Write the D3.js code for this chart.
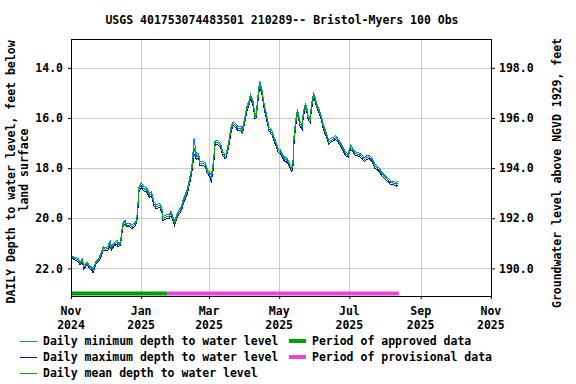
<!DOCTYPE html>
<html>
<head>
<meta charset="utf-8">
<script src="https://cdn.jsdelivr.net/npm/d3@7/dist/d3.min.js"></script>
<style>
  html, body { margin: 0; padding: 0; background: #fff; }
  svg { display: block; }
  text { font-family: "DejaVu Sans Mono", "Liberation Mono", monospace; font-weight: bold; font-size: 11.5px; fill: #000; }
</style>
</head>
<body>
<svg id="chart" width="576" height="384"></svg>
<script>
const title = "USGS 401753074483501 210289-- Bristol-Myers 100 Obs";
const leftTitle = ["DAILY Depth to water level, feet below", "land surface"];
const rightTitle = "Groundwater level above NGVD 1929, feet";

const dates = [
"2024-11-01","2024-11-04","2024-11-07","2024-11-09","2024-11-11","2024-11-12","2024-11-15","2024-11-17","2024-11-19","2024-11-20",
"2024-11-23","2024-11-25","2024-11-27","2024-11-29","2024-12-01","2024-12-03","2024-12-05","2024-12-06","2024-12-08","2024-12-11",
"2024-12-12","2024-12-14","2024-12-16","2024-12-18","2024-12-19","2024-12-22","2024-12-24","2024-12-26","2024-12-28","2024-12-29",
"2024-12-30","2025-01-01","2025-01-03","2025-01-06","2025-01-08","2025-01-10","2025-01-12","2025-01-14","2025-01-17","2025-01-19",
"2025-01-20","2025-01-23","2025-01-25","2025-01-27","2025-01-28","2025-01-30","2025-02-01","2025-02-03","2025-02-05","2025-02-07",
"2025-02-10","2025-02-12","2025-02-14","2025-02-16","2025-02-18","2025-02-20","2025-02-21","2025-02-24","2025-02-26","2025-02-27",
"2025-03-01","2025-03-03","2025-03-05","2025-03-06","2025-03-08","2025-03-11","2025-03-13","2025-03-15","2025-03-16","2025-03-18",
"2025-03-20","2025-03-22","2025-03-24","2025-03-26","2025-03-29","2025-03-30","2025-04-01","2025-04-03","2025-04-05","2025-04-06",
"2025-04-08","2025-04-10","2025-04-11","2025-04-13","2025-04-14","2025-04-16","2025-04-18","2025-04-20","2025-04-22","2025-04-25",
"2025-04-27","2025-04-30","2025-05-02","2025-05-05","2025-05-08","2025-05-10","2025-05-12","2025-05-13","2025-05-14","2025-05-16",
"2025-05-17","2025-05-19","2025-05-21","2025-05-22","2025-05-24","2025-05-25","2025-05-26","2025-05-28","2025-05-29","2025-05-31",
"2025-06-01","2025-06-03","2025-06-06","2025-06-08","2025-06-10","2025-06-13","2025-06-15","2025-06-17","2025-06-19","2025-06-21",
"2025-06-24","2025-06-26","2025-06-28","2025-06-30","2025-07-02","2025-07-04","2025-07-06","2025-07-09","2025-07-12","2025-07-14",
"2025-07-16","2025-07-18","2025-07-20","2025-07-21","2025-07-23","2025-07-25","2025-07-27","2025-07-29","2025-07-31","2025-08-02",
"2025-08-04","2025-08-06","2025-08-08","2025-08-11","2025-08-12"
];

const meanDepth = [
21.54,21.60,21.67,21.80,21.67,21.96,21.80,21.94,22.00,22.10,
21.74,21.67,21.47,21.20,21.24,21.20,21.00,21.20,21.07,20.94,
21.07,21.00,20.27,20.14,20.27,20.27,20.34,20.27,20.14,19.68,
18.85,18.68,18.81,18.88,19.08,19.01,19.41,19.55,19.48,19.68,
20.01,19.94,19.94,19.81,19.94,20.18,19.94,19.75,19.61,19.28,
18.95,18.55,18.08,17.22,17.55,17.49,17.82,17.82,17.88,18.08,
18.22,18.41,17.82,17.02,16.96,17.09,17.42,17.55,17.49,17.09,
16.49,16.22,16.29,16.42,16.42,16.56,16.09,15.63,15.36,15.16,
15.36,15.96,15.89,15.03,14.63,14.96,15.56,15.96,16.42,16.62,
16.89,17.29,17.35,17.62,17.69,17.88,18.02,17.82,16.76,15.96,
15.76,16.22,16.36,15.82,15.49,15.69,15.96,16.09,15.56,15.10,
15.23,15.56,15.89,16.29,16.56,16.96,16.89,16.85,16.78,16.89,
17.09,17.29,17.45,17.49,17.16,17.29,17.42,17.45,17.55,17.66,
17.58,17.55,17.63,17.69,17.92,17.98,18.08,18.22,18.32,18.41,
18.48,18.59,18.59,18.64,18.59
];

const minDepth = [
21.49,21.55,21.60,21.74,21.62,21.88,21.74,21.88,21.95,22.02,
21.68,21.61,21.40,21.14,21.18,21.13,20.90,21.13,21.00,20.86,
21.00,20.93,20.20,20.06,20.20,20.20,20.27,20.20,20.07,19.58,
18.75,18.58,18.72,18.80,19.00,18.93,19.33,19.47,19.40,19.60,
19.93,19.86,19.86,19.72,19.86,20.08,19.86,19.67,19.53,19.18,
18.85,18.45,17.95,16.82,17.45,17.40,17.74,17.74,17.80,17.99,
18.13,18.30,17.68,16.94,16.88,17.01,17.34,17.47,17.41,16.98,
16.38,16.14,16.21,16.34,16.34,16.47,15.98,15.53,15.28,15.06,
15.27,15.88,15.80,14.90,14.52,14.87,15.47,15.87,16.34,16.54,
16.81,17.21,17.27,17.54,17.61,17.80,17.92,17.70,16.60,15.85,
15.66,16.13,16.27,15.72,15.40,15.61,15.87,16.00,15.45,15.01,
15.15,15.48,15.81,16.21,16.48,16.89,16.82,16.78,16.71,16.82,
17.02,17.22,17.38,17.42,17.07,17.22,17.35,17.38,17.48,17.59,
17.51,17.48,17.56,17.62,17.84,17.91,18.01,18.15,18.25,18.34,
18.41,18.52,18.52,18.57,18.52
];

const maxDepth = [
21.59,21.66,21.72,21.86,21.73,22.02,21.86,22.00,22.06,22.18,
21.80,21.73,21.54,21.27,21.30,21.27,21.08,21.27,21.13,21.02,
21.14,21.07,20.34,20.22,20.34,20.34,20.41,20.34,20.21,19.80,
18.96,18.77,18.90,18.96,19.16,19.09,19.49,19.63,19.56,19.76,
20.09,20.02,20.02,19.90,20.02,20.28,20.02,19.83,19.69,19.38,
19.05,18.65,18.20,17.45,17.65,17.58,17.90,17.90,17.96,18.17,
18.31,18.52,17.96,17.10,17.04,17.17,17.50,17.63,17.57,17.20,
16.60,16.30,16.37,16.50,16.50,16.65,16.20,15.73,15.44,15.26,
15.45,16.04,15.98,15.16,14.74,15.05,15.65,16.05,16.50,16.70,
16.97,17.37,17.43,17.70,17.77,17.96,18.12,17.94,16.92,16.07,
15.86,16.31,16.45,15.92,15.58,15.77,16.05,16.18,15.67,15.19,
15.31,15.64,15.97,16.37,16.64,17.03,16.96,16.92,16.85,16.96,
17.16,17.36,17.52,17.56,17.25,17.36,17.49,17.52,17.62,17.73,
17.65,17.62,17.70,17.76,18.00,18.05,18.15,18.29,18.39,18.48,
18.55,18.66,18.66,18.72,18.66
];

const leftTicks = [14, 16, 18, 20, 22];
const rightTicks = [190, 192, 194, 196, 198];
const xTicks = ["2024-11-01","2025-01-01","2025-03-01","2025-05-01","2025-07-01","2025-09-01","2025-11-01"];
const approvedPeriod = ["2024-11-01", "2025-01-24"];
const provisionalPeriod = ["2025-01-24", "2025-08-13"];
const datumOffset = 212; // elevation = datumOffset - depth

const legendItems = [
  {label: "Daily minimum depth to water level", color: "#0a8ae8", w: 1, col: 0, row: 0},
  {label: "Daily maximum depth to water level", color: "#0000ff", w: 1, col: 0, row: 1},
  {label: "Daily mean depth to water level", color: "#00a800", w: 1, col: 0, row: 2},
  {label: "Period of approved data", color: "#00a000", w: 4, col: 1, row: 0},
  {label: "Period of provisional data", color: "#ee44dd", w: 4, col: 1, row: 1}
];

const parse = d3.utcParse("%Y-%m-%d");
const svg = d3.select("#chart");
svg.append("rect").attr("width", 576).attr("height", 384).attr("fill", "#fff");

const L = 71, R = 492, T = 39, B = 296;
const x = d3.scaleUtc().domain([parse("2024-11-01"), parse("2025-11-02")]).range([L, R]);
const y = d3.scaleLinear().domain([12.85, 23.1]).range([T, B]);
const y2 = d3.scaleLinear().domain([datumOffset - 12.85, datumOffset - 23.1]).range([T, B]);

// grid
const grid = svg.append("g").attr("stroke", "#cccccc").attr("stroke-width", 1).attr("shape-rendering", "crispEdges");
leftTicks.forEach(t => grid.append("line").attr("x1", L).attr("x2", R).attr("y1", Math.round(y(t)) + 0.5).attr("y2", Math.round(y(t)) + 0.5));
xTicks.forEach(t => grid.append("line").attr("x1", Math.round(x(parse(t))) + 0.5).attr("x2", Math.round(x(parse(t))) + 0.5).attr("y1", T).attr("y2", B));

// series
const series = [
  {vals: minDepth, color: legendItems[0].color},
  {vals: maxDepth, color: legendItems[1].color},
  {vals: meanDepth, color: legendItems[2].color}
];
const line = d3.line().x(d => x(d[0])).y(d => y(d[1]));
series.forEach(s => {
  const pts = dates.map((d, i) => [parse(d), s.vals[i]]);
  svg.append("path").datum(pts).attr("d", line).attr("fill", "none")
    .attr("stroke", s.color).attr("stroke-width", 1).attr("shape-rendering", "crispEdges");
});

// period bars
const barY = 293.5;
svg.append("line").attr("x1", x(parse(approvedPeriod[0]))).attr("x2", x(parse(approvedPeriod[1])))
  .attr("y1", barY).attr("y2", barY).attr("stroke", legendItems[3].color).attr("stroke-width", 4);
svg.append("line").attr("x1", x(parse(provisionalPeriod[0]))).attr("x2", x(parse(provisionalPeriod[1])))
  .attr("y1", barY).attr("y2", barY).attr("stroke", legendItems[4].color).attr("stroke-width", 4);

// frame
svg.append("rect").attr("x", L + 0.5).attr("y", T + 0.5).attr("width", R - L - 1).attr("height", B - T)
  .attr("fill", "none").attr("stroke", "#000").attr("stroke-width", 1).attr("shape-rendering", "crispEdges");

// axes
const fmt = d3.format(".1f");
const ax = svg.append("g").attr("transform", `translate(${L},0)`)
  .call(d3.axisLeft(y).tickValues(leftTicks).tickFormat(fmt).tickSize(3).tickPadding(5));
const ax2 = svg.append("g").attr("transform", `translate(${R},0)`)
  .call(d3.axisRight(y2).tickValues(rightTicks).tickFormat(fmt).tickSize(3).tickPadding(4));
const axB = svg.append("g").attr("transform", `translate(0,${B})`)
  .call(d3.axisBottom(x).tickValues(xTicks.map(parse)).tickFormat("").tickSize(3));
[ax, ax2, axB].forEach(g => {
  g.select(".domain").remove();
  g.selectAll("text").attr("font-family", null).attr("font-size", null).attr("fill", "#000");
  g.selectAll("line").attr("stroke", "#000");
});
const mFmt = d3.utcFormat("%b"), yFmt = d3.utcFormat("%Y");
xTicks.forEach(t => {
  const d = parse(t);
  const cx = x(d);
  svg.append("text").attr("x", cx).attr("y", 315).attr("text-anchor", "middle").text(mFmt(d));
  svg.append("text").attr("x", cx).attr("y", 329).attr("text-anchor", "middle").text(yFmt(d));
});

// titles
svg.append("text").attr("x", 282).attr("y", 24).attr("text-anchor", "middle").text(title);
svg.append("text").attr("transform", "translate(15,172) rotate(-90)").attr("text-anchor", "middle").text(leftTitle[0]);
svg.append("text").attr("transform", "translate(28,170) rotate(-90)").attr("text-anchor", "middle").text(leftTitle[1]);
svg.append("text").attr("transform", "translate(561,173) rotate(-90)").attr("text-anchor", "middle").text(rightTitle);

// legend
const colX = [20, 289], rowY = [341, 357, 373];
legendItems.forEach(it => {
  const lx = colX[it.col], ly = rowY[it.row];
  svg.append("rect").attr("x", lx).attr("y", ly - Math.floor(it.w / 2)).attr("width", 17).attr("height", it.w)
    .attr("fill", it.color);
  svg.append("text").attr("x", lx + 23).attr("y", ly + 4).text(it.label);
});
</script>
</body>
</html>
